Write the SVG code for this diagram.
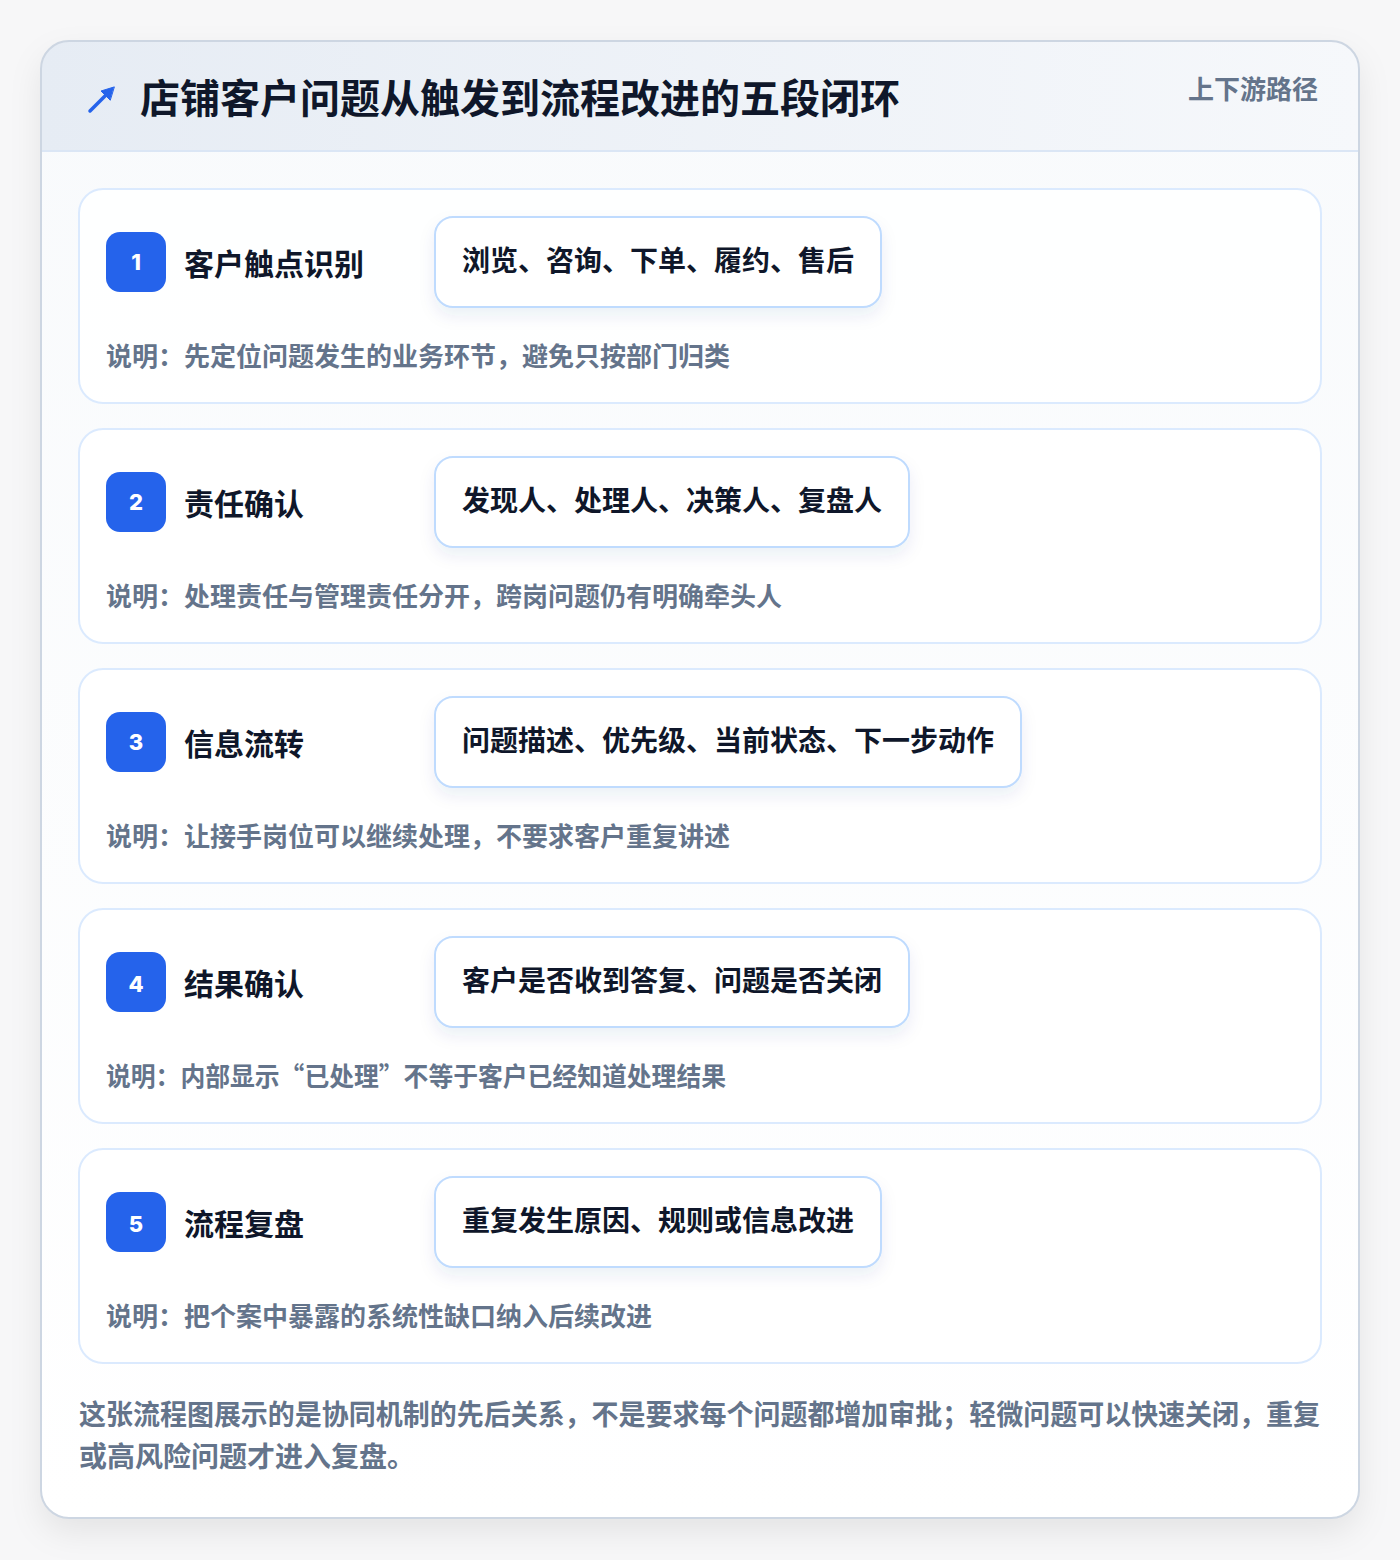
<svg xmlns="http://www.w3.org/2000/svg" width="1400" height="1560" viewBox="0 0 1400 1560">
<defs>
<linearGradient id="hdr" x1="0" y1="0" x2="1" y2="0"><stop offset="0" stop-color="#e6ecf4"/><stop offset="1" stop-color="#f6f8fb"/></linearGradient>
<linearGradient id="body" x1="0" y1="0" x2="0" y2="1"><stop offset="0" stop-color="#f8fafc"/><stop offset="1" stop-color="#ffffff"/></linearGradient>
<filter id="sh" x="-10%" y="-10%" width="120%" height="120%"><feDropShadow dx="0" dy="14" stdDeviation="16" flood-color="#0f172a" flood-opacity="0.08"/></filter>
<filter id="psh" x="-20%" y="-30%" width="140%" height="170%"><feDropShadow dx="0" dy="8" stdDeviation="8" flood-color="#1e3a8a" flood-opacity="0.08"/></filter>
<clipPath id="cardclip"><rect x="41" y="41" width="1318" height="1477" rx="28"/></clipPath>
</defs>
<style>
text{font-family:"Noto Sans CJK SC","Noto Sans",sans-serif;font-weight:700}
.step{fill:#ffffff;fill-opacity:0.85;stroke:#dbeafe;stroke-width:2}
.badge{fill:#2563eb}
.num{fill:#ffffff;font-size:22px;font-family:"Inter","Noto Sans",sans-serif;font-weight:800}
.st{fill:#0f172a;font-size:30px}
.pill{fill:#ffffff;stroke:#bfdbfe;stroke-width:2}
.pt{fill:#0f172a;font-size:28px}
.desc{fill:#64748b;font-size:26px}
.foot{fill:#64748b;font-size:28px}
</style>
<rect width="1400" height="1560" fill="#f7f7f8"/>
<g id="card">
<rect x="41" y="41" width="1318" height="1477" rx="28" fill="url(#body)" filter="url(#sh)"/>
<g clip-path="url(#cardclip)">
<rect x="41" y="41" width="1318" height="110" fill="url(#hdr)"/>
<line x1="41" y1="151" x2="1359" y2="151" stroke="#dbe6f5" stroke-width="2"/>
</g>
<rect x="41" y="41" width="1318" height="1477" rx="28" fill="none" stroke="#cdd6e2" stroke-width="2"/>
</g>
<g id="header">
<g stroke="#2563eb" stroke-width="3.5" fill="#2563eb" stroke-linecap="round">
<line x1="90" y1="111" x2="110" y2="91"/>
<path d="M114 87 L101 91 L110 100 Z" stroke-width="1"/>
</g>
<text x="140" y="113" font-size="40" fill="#0f172a">店铺客户问题从触发到流程改进的五段闭环</text>
<text x="1318" y="99" font-size="26" fill="#64748b" text-anchor="end">上下游路径</text>
</g>
<g id="step1">
<rect class="step" x="79" y="189" width="1242" height="214" rx="24"/>
<rect class="badge" x="106" y="232" width="60" height="60" rx="14"/>
<text class="num" x="136" y="270" text-anchor="middle">1</text>
<text class="st" x="184" y="275">客户触点识别</text>
<rect class="pill" x="435" y="217" width="446" height="90" rx="18" filter="url(#psh)"/>
<text class="pt" x="462" y="271">浏览、咨询、下单、履约、售后</text>
<text class="desc" x="106" y="366">说明：先定位问题发生的业务环节，避免只按部门归类</text>
</g>
<g id="step2">
<rect class="step" x="79" y="429" width="1242" height="214" rx="24"/>
<rect class="badge" x="106" y="472" width="60" height="60" rx="14"/>
<text class="num" x="136" y="510" text-anchor="middle">2</text>
<text class="st" x="184" y="515">责任确认</text>
<rect class="pill" x="435" y="457" width="474" height="90" rx="18" filter="url(#psh)"/>
<text class="pt" x="462" y="511">发现人、处理人、决策人、复盘人</text>
<text class="desc" x="106" y="606">说明：处理责任与管理责任分开，跨岗问题仍有明确牵头人</text>
</g>
<g id="step3">
<rect class="step" x="79" y="669" width="1242" height="214" rx="24"/>
<rect class="badge" x="106" y="712" width="60" height="60" rx="14"/>
<text class="num" x="136" y="750" text-anchor="middle">3</text>
<text class="st" x="184" y="755">信息流转</text>
<rect class="pill" x="435" y="697" width="586" height="90" rx="18" filter="url(#psh)"/>
<text class="pt" x="462" y="751">问题描述、优先级、当前状态、下一步动作</text>
<text class="desc" x="106" y="846">说明：让接手岗位可以继续处理，不要求客户重复讲述</text>
</g>
<g id="step4">
<rect class="step" x="79" y="909" width="1242" height="214" rx="24"/>
<rect class="badge" x="106" y="952" width="60" height="60" rx="14"/>
<text class="num" x="136" y="992" text-anchor="middle">4</text>
<text class="st" x="184" y="995">结果确认</text>
<rect class="pill" x="435" y="937" width="474" height="90" rx="18" filter="url(#psh)"/>
<text class="pt" x="462" y="991">客户是否收到答复、问题是否关闭</text>
<text class="desc" x="106" y="1086" textLength="620" lengthAdjust="spacingAndGlyphs">说明：内部显示“已处理”不等于客户已经知道处理结果</text>
</g>
<g id="step5">
<rect class="step" x="79" y="1149" width="1242" height="214" rx="24"/>
<rect class="badge" x="106" y="1192" width="60" height="60" rx="14"/>
<text class="num" x="136" y="1232" text-anchor="middle">5</text>
<text class="st" x="184" y="1235">流程复盘</text>
<rect class="pill" x="435" y="1177" width="446" height="90" rx="18" filter="url(#psh)"/>
<text class="pt" x="462" y="1231">重复发生原因、规则或信息改进</text>
<text class="desc" x="106" y="1326">说明：把个案中暴露的系统性缺口纳入后续改进</text>
</g>
<g id="footer">
<text class="foot" x="79" y="1425" textLength="1241" lengthAdjust="spacingAndGlyphs">这张流程图展示的是协同机制的先后关系，不是要求每个问题都增加审批；轻微问题可以快速关闭，重复</text>
<text class="foot" x="79" y="1467">或高风险问题才进入复盘。</text>
</g>
<g id="connectors"/>
</svg>
